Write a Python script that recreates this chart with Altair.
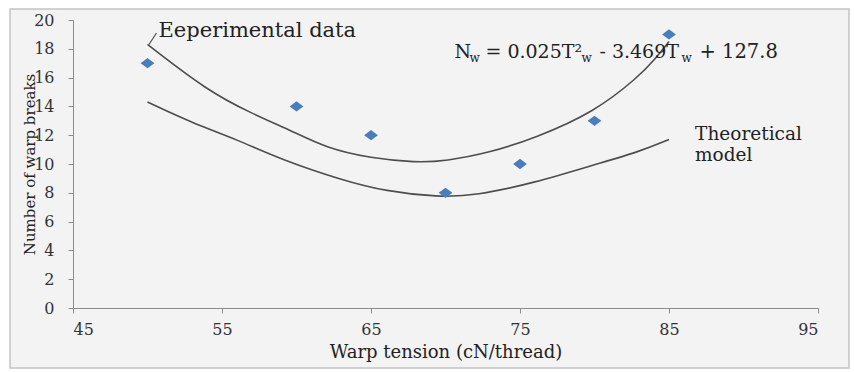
import altair as alt
import pandas as pd

# ---- data ----
tension = [50, 60, 65, 70, 75, 80, 85]
breaks = [17, 14, 12, 8, 10, 13, 19]

exp_T = [50, 54, 57, 59.5, 62, 65, 68, 70, 73, 76, 80, 83, 84, 85]
exp_N = [18.3, 15.1, 13.5, 12.4, 11.1, 10.4, 10.1, 10.2, 10.8, 11.8, 13.6, 16.1, 17.2, 18.5]

theo_T = [50, 53, 56, 59, 63, 66, 69.5, 72, 76, 80, 83, 85]
theo_N = [14.3, 12.85, 11.7, 10.3, 8.9, 8.1, 7.7, 7.8, 8.7, 9.95, 10.85, 11.7]

x_ticks = [45, 55, 65, 75, 85, 95]
y_ticks = [0, 2, 4, 6, 8, 10, 12, 14, 16, 18, 20]

FONT = "DejaVu Serif"

pts = pd.DataFrame({"T": tension, "N": breaks})
exp_df = pd.DataFrame({"T": exp_T, "N": exp_N})
theo_df = pd.DataFrame({"T": theo_T, "N": theo_N})

xs = alt.Scale(domain=[45, 95], nice=False, zero=False)
ys = alt.Scale(domain=[0, 20], nice=False)

x_axis = alt.Axis(
    values=x_ticks, grid=False, tickSize=5, domainColor="#8c8c8c", tickColor="#8c8c8c",
    labelFont=FONT, labelFontSize=16, labelColor="#333333", labelPadding=8,
    title="Warp tension (cN/thread)", titleFont=FONT, titleFontSize=18,
    titleFontWeight="normal", titleColor="#222222", titleY=49, titleBaseline="alphabetic",
    zindex=1,
)
y_axis = alt.Axis(
    values=y_ticks, grid=False, tickSize=5, domainColor="#8c8c8c", tickColor="#8c8c8c",
    labelFont=FONT, labelFontSize=16, labelColor="#333333", labelPadding=14,
    title="Number of warp breaks", titleFont=FONT, titleFontSize=15,
    titleFontWeight="normal", titleColor="#222222", titleX=-44, titleY=144,
    titleAngle=-90, titleAlign="center", titleBaseline="middle",
    zindex=1,
)

X = alt.X("T:Q", scale=xs, axis=x_axis)
Y = alt.Y("N:Q", scale=ys, axis=y_axis)

one = pd.DataFrame({"a": [0]})

frame = alt.Chart(one).mark_rect(fill="#f3f3f3", stroke="#c4c4c4", strokeWidth=1.5).encode(
    x=alt.value(-63), x2=alt.value(776), y=alt.value(-11), y2=alt.value(348)
)

exp_line = alt.Chart(exp_df).mark_line(color="#4d4d4d", strokeWidth=1.6, interpolate="basis").encode(x=X, y=Y)
theo_line = alt.Chart(theo_df).mark_line(color="#4d4d4d", strokeWidth=1.6, interpolate="basis").encode(x=X, y=Y)

leader = alt.Chart(pd.DataFrame({"T": [50.1, 50.6], "N": [18.3, 19.1]})).mark_line(
    color="#4d4d4d", strokeWidth=1.2
).encode(x=X, y=Y)

points = alt.Chart(pts).mark_point(
    shape="M-1,0L0,-0.75L1,0L0,0.75Z", size=190, filled=True, fill="#4a7ebb", opacity=1, strokeWidth=0
).encode(x=X, y=Y)

def label(df, **kw):
    return alt.Chart(df).mark_text(font=FONT, color="#222222", **kw)

exp_label = label(pd.DataFrame({"T": [50.74], "N": [18.83], "t": ["Eeperimental data"]}),
                  fontSize=21, align="left", baseline="alphabetic").encode(x=X, y=Y, text="t:N")

theo_label = label(pd.DataFrame({"T": [86.75], "N": [11.7], "t": [["Theoretical", "model"]]}),
                   fontSize=18.5, align="left", baseline="alphabetic", lineHeight=21).encode(x=X, y=Y, text="t:N")

# equation N_w = 0.025T²_w - 3.469T_w + 127.8, built from pieces
eq_anchor = pd.DataFrame({"T": [70.6], "N": [17.37]})
eq_parts = [
    ("N", 0, 0, 19),
    ("w", 15, 4, 12),
    ("= 0.025T²", 31, 0, 19),
    ("w", 127, 4, 12),
    ("- 3.469T", 145, 0, 19),
    ("w", 227, 4, 12),
    ("+ 127.8", 245, 0, 19.5),
]
eq_layers = [
    alt.Chart(eq_anchor).mark_text(font=FONT, color="#222222", fontSize=fs, align="left",
                                   baseline="alphabetic", dx=dx, dy=dy, text=txt).encode(x=X, y=Y)
    for txt, dx, dy, fs in eq_parts
]

chart = alt.layer(frame, exp_line, theo_line, leader, points, exp_label, theo_label, *eq_layers).properties(
    width=745, height=288,
    autosize=alt.AutoSizeParams(type="none"),
    padding={"left": 73, "top": 20, "right": 36, "bottom": 64},
    background="white",
).configure_view(strokeWidth=0)

chart.save("out.html", embed_options={"renderer": "svg", "actions": False})
